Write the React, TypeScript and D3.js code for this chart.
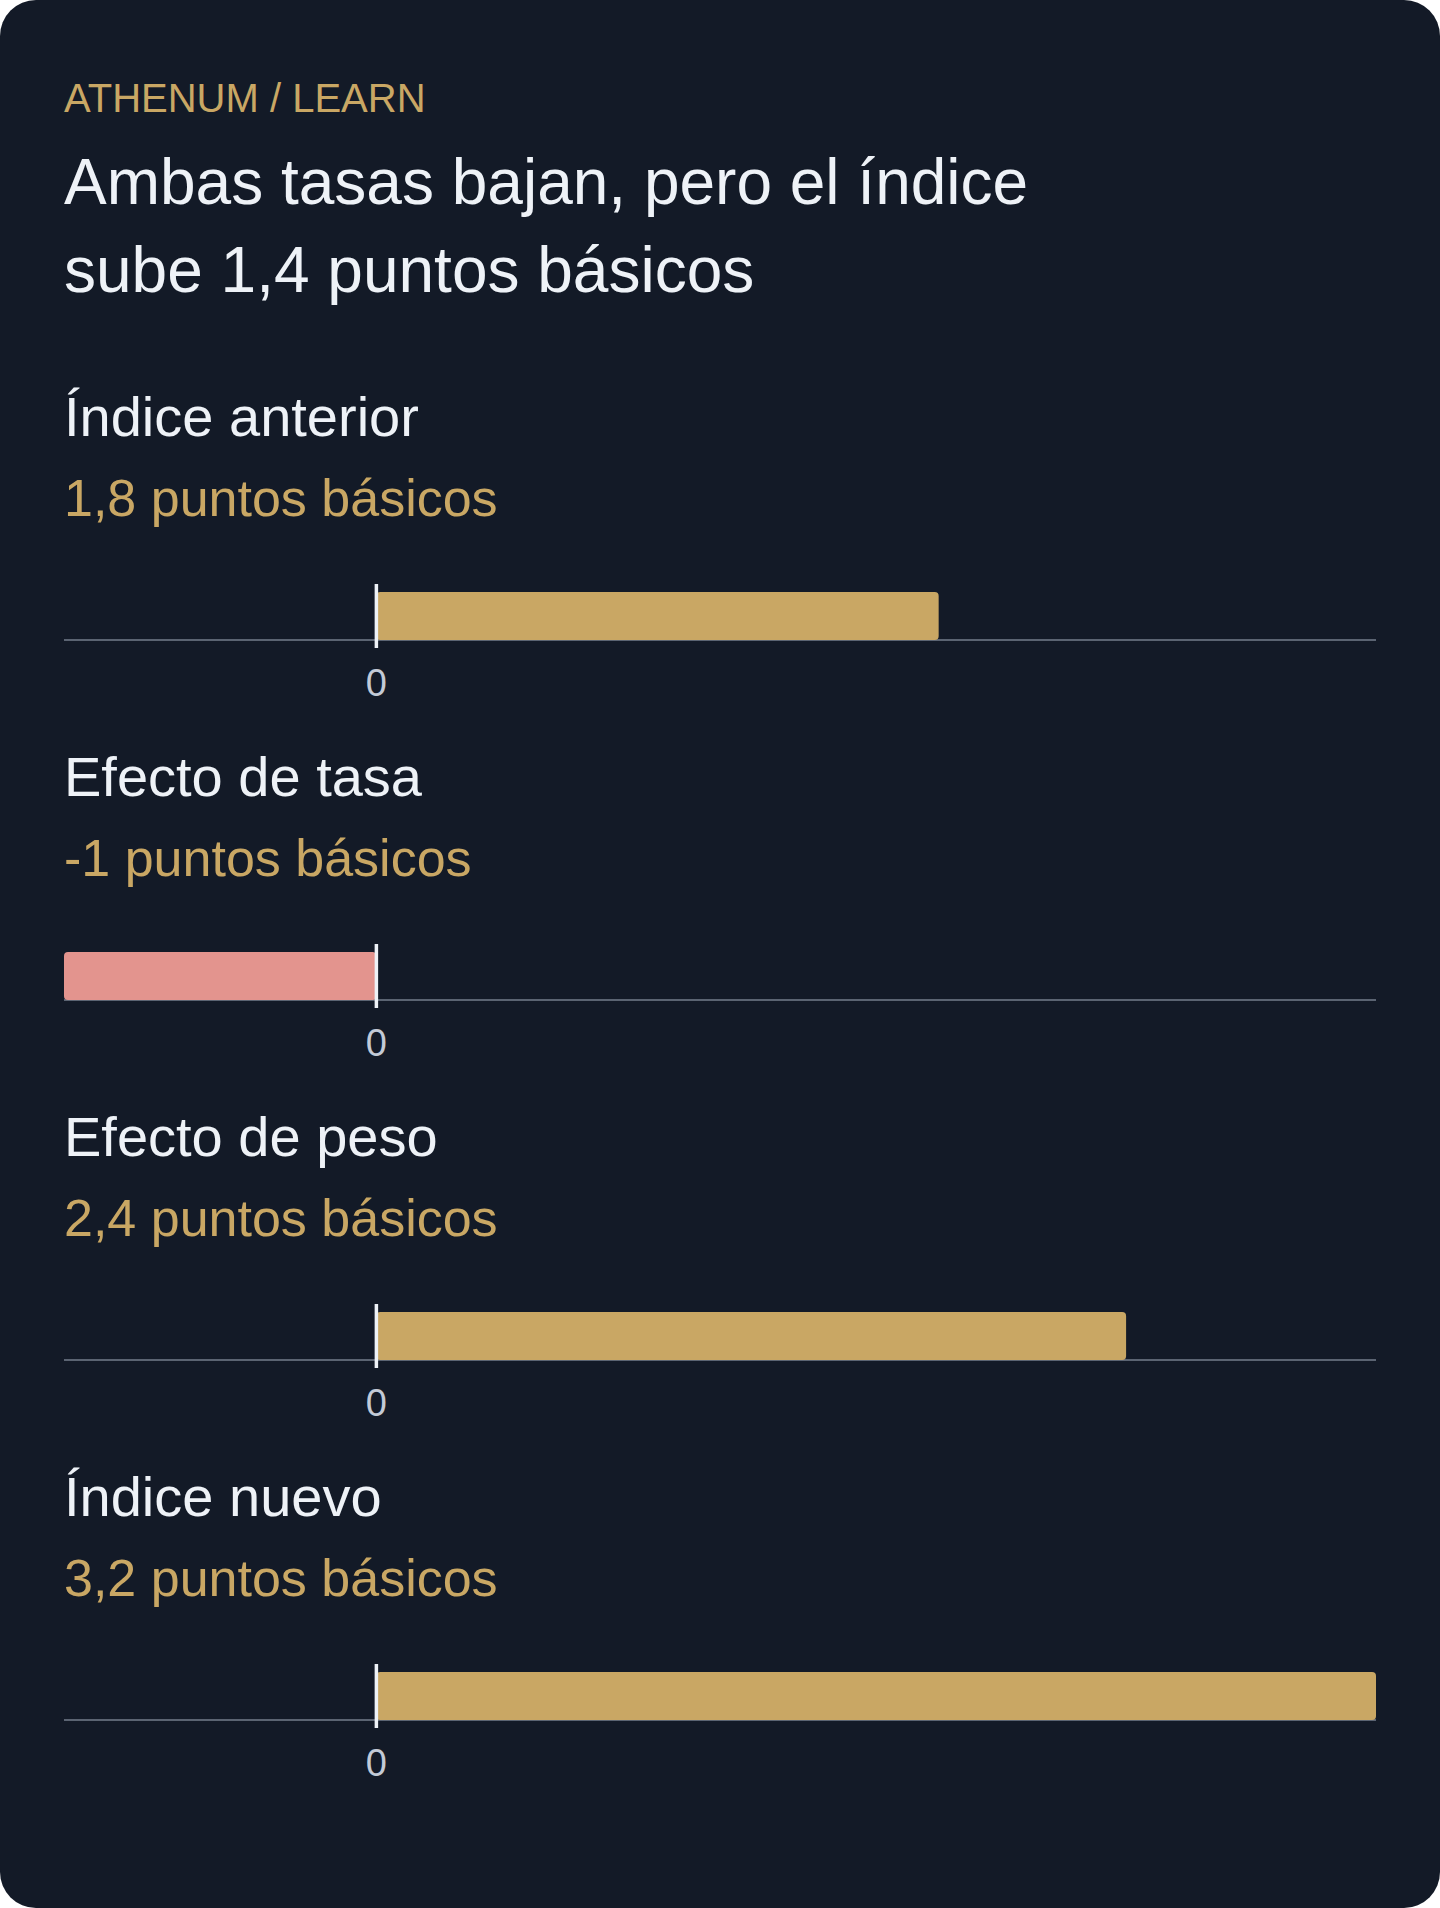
import React from "react";
import * as d3 from "d3";

const kicker = "ATHENUM / LEARN";
const titleLines = ["Ambas tasas bajan, pero el índice", "sube 1,4 puntos básicos"];
const categories = ["Índice anterior", "Efecto de tasa", "Efecto de peso", "Índice nuevo"];
const values = [1.8, -1, 2.4, 3.2];
const unit = "puntos básicos";
const tickValues = [0];

const W = 1440;
const H = 1908;

const locale = d3.formatLocale({
  decimal: ",",
  thousands: ".",
  grouping: [3],
  currency: ["", " €"],
  minus: "-",
});
const fmt = locale.format("~g");

export default function App() {
  const left = 64;
  const right = 1376;
  const x = d3
    .scaleLinear()
    .domain([d3.min(values)!, d3.max(values)!])
    .range([left, right]);

  const rowStep = 360;
  const font = "'Liberation Sans', Arial, Helvetica, sans-serif";

  return (
    <svg
      width={W}
      height={H}
      viewBox={`0 0 ${W} ${H}`}
      style={{ position: "absolute", left: 0, top: 0, display: "block" }}
      fontFamily={font}
    >
      <rect x={0} y={0} width={W} height={H} fill="#ffffff" />
      <rect x={0} y={0} width={W} height={H} rx={36} ry={36} fill="#131a27" />

      <text x={left} y={112} fontSize={40} fill="#c9a764">
        {kicker}
      </text>
      {titleLines.map((t, i) => (
        <text key={i} x={left} y={204 + i * 88} fontSize={64} fill="#eef2f7">
          {t}
        </text>
      ))}

      {categories.map((cat, i) => {
        const off = i * rowStep;
        const v = values[i];
        const x0 = x(0);
        const xv = x(v);
        const axisY = 640 + off;
        const barH = 48;
        return (
          <g key={cat}>
            <text x={left} y={436 + off} fontSize={56} fill="#eef2f7">
              {cat}
            </text>
            <text x={left} y={516 + off} fontSize={52} fill="#c9a764">
              {`${fmt(v)} ${unit}`}
            </text>
            <line
              x1={x.range()[0]}
              x2={x.range()[1]}
              y1={axisY}
              y2={axisY}
              stroke="#5b6472"
              strokeWidth={2}
            />
            <rect
              x={Math.min(x0, xv)}
              y={axisY - barH}
              width={Math.abs(xv - x0)}
              height={barH}
              rx={4}
              ry={4}
              fill={v < 0 ? "#e3948e" : "#c9a764"}
            />
            {tickValues.map((t) => (
              <g key={t}>
                <line
                  x1={x(t)}
                  x2={x(t)}
                  y1={axisY - 56}
                  y2={axisY + 8}
                  stroke="#eef2f7"
                  strokeWidth={3.5}
                />
                <text
                  x={x(t)}
                  y={696 + off}
                  fontSize={38}
                  fill="#c3cad6"
                  textAnchor="middle"
                >
                  {fmt(t)}
                </text>
              </g>
            ))}
          </g>
        );
      })}
    </svg>
  );
}
